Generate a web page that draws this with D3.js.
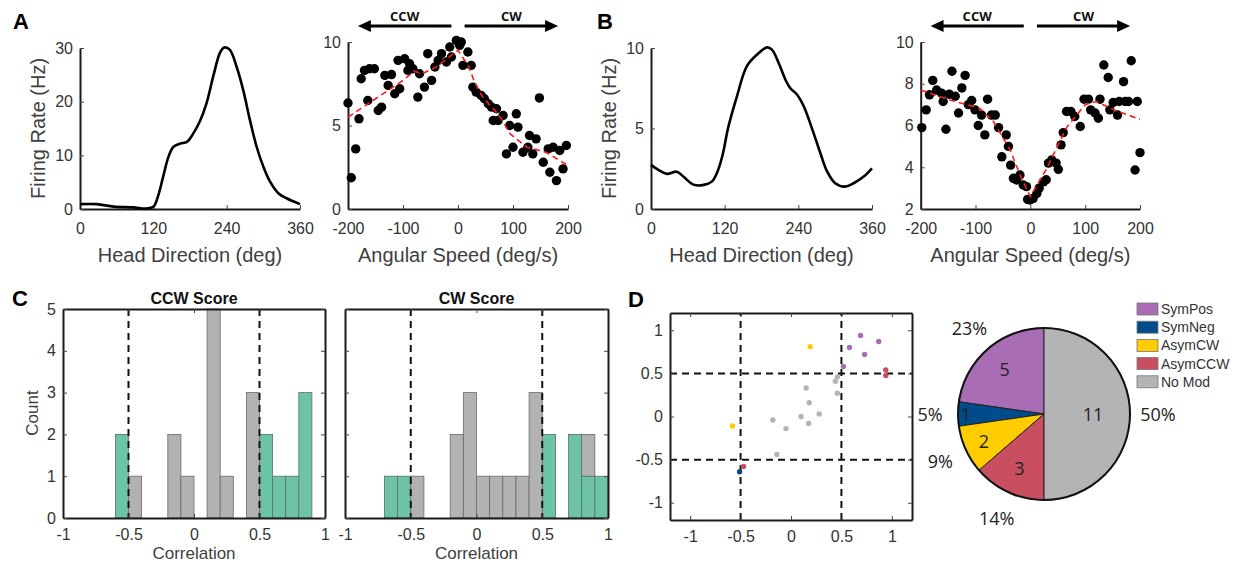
<!DOCTYPE html>
<html>
<head>
<meta charset="utf-8">
<script src="https://cdn.jsdelivr.net/npm/d3@7"></script>
<style>
  body { margin: 0; background: #fff; }
  text { font-family: "Liberation Sans", Arial, sans-serif; }
</style>
</head>
<body>
<div id="fig"></div>
<script>
const width = 1238;
const height = 569;

// A: head direction tuning curve
const hdA_deg = [0, 27, 55, 87, 109, 120, 128, 136, 145, 153, 164, 175, 185, 196, 207, 218, 229, 236, 245, 256, 267, 278, 289, 300, 311, 325, 338, 360];
const hdA_rate = [0.9, 0.9, 0.45, 0.3, 0.1, 0.4, 2.5, 6.0, 9.8, 11.6, 12.2, 12.5, 14.0, 16.3, 19.7, 24.7, 29.1, 30.1, 29.7, 26.6, 22.2, 16.6, 11.6, 7.9, 5.1, 2.9, 2.0, 0.9];

// A: angular speed tuning
const speedA = [-200, -194, -186, -180, -176, -170, -164, -161, -152, -145, -139, -133, -127, -121, -115, -109, -106, -97, -91, -88, -82, -73, -70, -61, -55, -48, -42, -36, -30, -21, -15, -12, -3, 3, 6, 9, 18, 24, 27, 33, 42, 48, 55, 61, 64, 70, 73, 82, 88, 94, 100, 106, 109, 118, 127, 130, 136, 142, 148, 155, 164, 167, 173, 179, 185, 191, 197];
const rateA = [6.35, 1.87, 3.6, 5.4, 7.8, 8.3, 6.5, 8.4, 8.4, 5.9, 6.1, 8.0, 7.4, 8.05, 6.9, 8.9, 7.2, 9.0, 8.3, 8.7, 8.4, 6.7, 8.1, 7.3, 9.3, 7.7, 8.5, 8.9, 9.3, 8.8, 9.7, 9.1, 10.1, 9.8, 10.0, 8.6, 9.4, 8.6, 7.3, 7.0, 6.8, 6.6, 6.3, 6.1, 5.3, 6.0, 5.3, 5.6, 3.3, 5.0, 3.7, 5.7, 4.9, 3.4, 3.7, 4.4, 3.3, 4.2, 6.65, 2.8, 3.6, 2.2, 3.7, 1.7, 3.5, 2.4, 3.8];
const fitA_speed = [-200, -150, -100, -80, -65, -40, -20, -5, 0, 10, 20, 30, 45, 75, 95, 125, 160, 200];
const fitA_rate = [5.5, 6.6, 7.7, 8.25, 8.1, 8.5, 9.0, 9.4, 9.5, 9.0, 8.5, 7.6, 6.7, 5.6, 4.5, 3.7, 3.4, 2.6];

// B: head direction tuning curve
const hdB_deg = [0, 12, 26, 42, 53, 70, 86, 99, 107, 116, 126, 140, 156, 173, 189, 197, 208, 219, 227, 238, 249, 265, 276, 287, 300, 316, 330, 346, 360];
const hdB_rate = [2.74, 2.43, 2.18, 2.32, 2.0, 1.5, 1.5, 1.7, 2.2, 3.26, 5.1, 7.0, 8.86, 9.6, 10.04, 9.9, 9.07, 8.03, 7.5, 7.1, 6.37, 4.7, 3.46, 2.32, 1.6, 1.39, 1.6, 2.0, 2.53];

// B: angular speed tuning
const speedB = [-198, -190, -184, -178, -171, -162, -159, -154, -148, -143, -137, -131, -125, -119, -113, -107, -101, -95, -89, -83, -78, -71, -64, -58, -52, -44, -40, -36, -31, -25, -19, -13, -7, -5, -1, 5, 12, 16, 24, 29, 33, 39, 47, 51, 56, 60, 66, 74, 81, 91, 98, 106, 110, 118, 124, 127, 134, 142, 145, 151, 159, 162, 170, 173, 179, 184, 191, 195, 200];
const rateB = [5.9, 6.75, 7.47, 8.16, 7.7, 7.55, 7.15, 5.82, 7.5, 8.6, 7.4, 6.6, 7.8, 8.4, 7.0, 7.2, 6.75, 6.0, 6.5, 5.55, 7.26, 6.5, 6.5, 5.9, 4.5, 5.55, 5.0, 4.1, 3.47, 3.39, 3.63, 3.15, 3.07, 2.46, 2.43, 2.5, 2.75, 3.0, 3.3, 3.4, 4.2, 4.35, 4.2, 3.9, 5.07, 5.66, 6.67, 6.67, 6.43, 5.95, 7.26, 7.26, 6.75, 6.6, 6.35, 7.26, 8.9, 8.3, 6.75, 7.1, 6.5, 7.15, 8.1, 7.15, 7.15, 9.1, 3.87, 7.15, 4.7];
const fitB_speed = [-200, -150, -92, -67, -37, -15, 0, 30, 66, 100, 120, 157, 200];
const fitB_rate = [7.7, 7.25, 6.82, 6.18, 4.83, 3.39, 2.6, 3.95, 5.9, 7.0, 7.15, 6.7, 6.3];

// C: score histograms (bins of 0.1 starting at binStart)
const binStart = [-1, -0.9, -0.8, -0.7, -0.6, -0.5, -0.4, -0.3, -0.2, -0.1, 0, 0.1, 0.2, 0.3, 0.4, 0.5, 0.6, 0.7, 0.8, 0.9];
const ccwGray = [0, 0, 0, 0, 0, 1, 0, 0, 2, 1, 0, 5, 1, 0, 3, 0, 0, 0, 0, 0];
const ccwGreen = [0, 0, 0, 0, 2, 0, 0, 0, 0, 0, 0, 0, 0, 0, 0, 2, 1, 1, 3, 0];
const cwGray = [0, 0, 0, 0, 0, 1, 0, 0, 2, 3, 1, 1, 1, 1, 3, 0, 0, 0, 1, 0];
const cwGreen = [0, 0, 0, 1, 1, 0, 0, 0, 0, 0, 0, 0, 0, 0, 0, 2, 0, 2, 1, 1];
const corrTicks = [-1, -0.5, 0, 0.5, 1];
const countTicks = [0, 1, 2, 3, 4, 5];

// D: score scatter + pie
const scoreX = [0.69, 0.87, 0.58, 0.73, 0.52, 0.94, 0.94, -0.47, 0.19, -0.58, -0.51, 0.46, 0.44, 0.46, 0.15, 0.18, 0.28, 0.10, 0.175, -0.18, -0.05, -0.14];
const scoreY = [0.94, 0.87, 0.80, 0.72, 0.58, 0.54, 0.475, -0.58, 0.81, -0.11, -0.64, 0.46, 0.41, 0.27, 0.33, 0.16, 0.03, 0.0, -0.08, -0.04, -0.14, -0.44];
const cellType = ["SymPos", "SymPos", "SymPos", "SymPos", "SymPos", "AsymCCW", "AsymCCW", "AsymCCW", "AsymCW", "AsymCW", "SymNeg",
  "No Mod", "No Mod", "No Mod", "No Mod", "No Mod", "No Mod", "No Mod", "No Mod", "No Mod", "No Mod", "No Mod"];
const pieLabels = ["SymPos", "SymNeg", "AsymCW", "AsymCCW", "No Mod"];
const pieCounts = [5, 1, 2, 3, 11];
const piePercents = ["23%", "5%", "9%", "14%", "50%"];
const pieColors = ["#A86DB5", "#004C8A", "#FFCC00", "#C94F60", "#B4B4B4"];

const color = d3.scaleOrdinal().domain(pieLabels).range(pieColors);

const svg = d3
  .select("#fig")
  .append("svg")
  .attr("width", width)
  .attr("height", height)
  .style("background", "#fff");

const INK = "#1a1a1a";
const TXT = "#333";
const plain = d => String(d); // MATLAB-style tick text: "-0.5", "1", hyphen minus

const styleAxis = (g, size) => {
  g.select(".domain").attr("stroke", INK).attr("stroke-width", 2);
  g.selectAll(".tick line").attr("stroke", "#444").attr("stroke-width", 1);
  g.selectAll("text").attr("font-size", size).attr("fill", TXT)
    .style("font-family", '"Liberation Sans", Arial, sans-serif');
};

const panelLetter = (t, x, y) => {
  svg.append("text").attr("x", x).attr("y", y).text(t)
    .attr("font-size", 22).attr("font-weight", "bold").attr("fill", "#000");
};

const axisLabel = (t, x, y, size, rotate) => {
  svg.append("text")
    .attr("transform", `translate(${x},${y})` + (rotate ? " rotate(-90)" : ""))
    .attr("text-anchor", "middle")
    .attr("dominant-baseline", "central")
    .attr("font-size", size)
    .attr("fill", "#404040")
    .text(t);
};

// open (box off) axes for the top row
const openAxes = (x, y, xTicks, yTicks) => {
  const [x0] = x.range();
  const [y0] = y.range();
  svg.append("g")
    .attr("transform", `translate(0,${y0})`)
    .call(d3.axisBottom(x).tickValues(xTicks).tickFormat(plain).tickSizeInner(-4).tickSizeOuter(0).tickPadding(14))
    .call(g => styleAxis(g, 16));
  svg.append("g")
    .attr("transform", `translate(${x0},0)`)
    .call(d3.axisLeft(y).tickValues(yTicks).tickFormat(plain).tickSizeInner(-4).tickSizeOuter(0).tickPadding(7))
    .call(g => styleAxis(g, 16));
};

const tuningPanel = (deg, rate, xr, yr, yMax, yTicks) => {
  const x = d3.scaleLinear().domain([0, 360]).range(xr);
  const y = d3.scaleLinear().domain([0, yMax]).range(yr);
  openAxes(x, y, [0, 120, 240, 360], yTicks);
  const line = d3.line()
    .x(d => x(d[0]))
    .y(d => y(d[1]))
    .curve(d3.curveCatmullRom.alpha(0.5));
  svg.append("path")
    .datum(deg.map((d, i) => [d, rate[i]]))
    .attr("fill", "none")
    .attr("stroke", "#000")
    .attr("stroke-width", 2.6)
    .attr("stroke-linejoin", "round")
    .attr("d", line);
  axisLabel("Head Direction (deg)", (xr[0] + xr[1]) / 2, 255, 20, false);
  axisLabel("Firing Rate (Hz)", xr[0] - 42, (yr[0] + yr[1]) / 2, 20, true);
};

const arrow = (x, from, to, yy) => {
  const dir = Math.sign(x(to) - x(from));
  const xEnd = x(to);
  svg.append("line")
    .attr("x1", x(from)).attr("x2", xEnd - dir * 8)
    .attr("y1", yy).attr("y2", yy)
    .attr("stroke", "#000").attr("stroke-width", 3);
  svg.append("path")
    .attr("d", `M${xEnd},${yy} L${xEnd - dir * 13},${yy - 6} L${xEnd - dir * 13},${yy + 6} Z`)
    .attr("fill", "#000");
};

const speedPanel = (sp, rt, fitX, fitY, xr, yr, yDom, yTicks) => {
  const x = d3.scaleLinear().domain([-200, 200]).range(xr);
  const y = d3.scaleLinear().domain(yDom).range(yr);
  openAxes(x, y, [-200, -100, 0, 100, 200], yTicks);

  svg.append("g")
    .selectAll("circle")
    .data(sp.map((d, i) => [d, rt[i]]))
    .enter()
    .append("circle")
    .attr("cx", d => x(d[0]))
    .attr("cy", d => y(d[1]))
    .attr("r", 4.7)
    .attr("fill", "#000");

  svg.append("path")
    .datum(fitX.map((d, i) => [d, fitY[i]]))
    .attr("fill", "none")
    .attr("stroke", "#ff1a1a")
    .attr("stroke-width", 1.6)
    .attr("stroke-dasharray", "6,4")
    .attr("d", d3.line().x(d => x(d[0])).y(d => y(d[1])));

  arrow(x, -12, -182, 26);
  arrow(x, 12, 182, 26);
  [["CCW", -97], ["CW", 97]].forEach(([t, v]) => {
    svg.append("text")
      .attr("x", x(v)).attr("y", 16)
      .attr("text-anchor", "middle")
      .attr("dominant-baseline", "central")
      .attr("font-size", 13)
      .attr("font-weight", "bold")
      .style("font-family", '"Open Sans", sans-serif')
      .attr("fill", "#111")
      .text(t);
  });
  axisLabel("Angular Speed (deg/s)", (xr[0] + xr[1]) / 2, 255, 20, false);
};

// boxed axes (MATLAB box on) for panels C and D
const boxAxes = (x, y, xTicks, yTicks, showY) => {
  const [x0, x1] = x.range();
  const [y0, y1] = y.range();
  svg.append("g").attr("transform", `translate(0,${y0})`)
    .call(d3.axisBottom(x).tickValues(xTicks).tickFormat(plain).tickSizeInner(-4).tickSizeOuter(0).tickPadding(11))
    .call(g => styleAxis(g, 16));
  svg.append("g").attr("transform", `translate(0,${y1})`)
    .call(d3.axisTop(x).tickValues(xTicks).tickSizeInner(-4).tickSizeOuter(0).tickFormat(""))
    .call(g => styleAxis(g, 16));
  svg.append("g").attr("transform", `translate(${x0},0)`)
    .call(d3.axisLeft(y).tickValues(yTicks).tickSizeInner(-4).tickSizeOuter(0).tickPadding(7)
      .tickFormat(showY ? plain : ""))
    .call(g => styleAxis(g, 16));
  svg.append("g").attr("transform", `translate(${x1},0)`)
    .call(d3.axisRight(y).tickValues(yTicks).tickSizeInner(-4).tickSizeOuter(0).tickFormat(""))
    .call(g => styleAxis(g, 16));
};

const dashedLine = (x1, y1, x2, y2) => {
  svg.append("line")
    .attr("x1", x1).attr("y1", y1).attr("x2", x2).attr("y2", y2)
    .attr("stroke", "#111")
    .attr("stroke-width", 2)
    .attr("stroke-dasharray", "7,5");
};

const histPanel = (title, gray, green, xr, showY) => {
  const x = d3.scaleLinear().domain([-1, 1]).range(xr);
  const y = d3.scaleLinear().domain([0, 5]).range([518, 309]);
  const bins = binStart.map((b, i) => ({ b, green: green[i], gray: gray[i] }));

  const g = svg.append("g");
  g.selectAll("rect.green")
    .data(bins.filter(d => d.green > 0))
    .enter()
    .append("rect")
    .attr("x", d => x(d.b))
    .attr("width", d => x(d.b + 0.1) - x(d.b))
    .attr("y", d => y(d.green))
    .attr("height", d => y(0) - y(d.green))
    .attr("fill", "#6CC4A4")
    .attr("stroke", "#5f6f68")
    .attr("stroke-width", 0.8);
  g.selectAll("rect.gray")
    .data(bins.filter(d => d.gray > 0))
    .enter()
    .append("rect")
    .attr("x", d => x(d.b))
    .attr("width", d => x(d.b + 0.1) - x(d.b))
    .attr("y", d => y(d.green + d.gray))
    .attr("height", d => y(d.green) - y(d.green + d.gray))
    .attr("fill", "#B2B2B2")
    .attr("stroke", "#6a6a6a")
    .attr("stroke-width", 0.8);

  [-0.5, 0.5].forEach(v => dashedLine(x(v), y(5), x(v), y(0)));
  boxAxes(x, y, corrTicks, countTicks, showY);

  svg.append("text")
    .attr("x", (xr[0] + xr[1]) / 2).attr("y", 298)
    .attr("text-anchor", "middle")
    .attr("dominant-baseline", "central")
    .attr("font-size", 16)
    .attr("font-weight", "bold")
    .attr("fill", "#111")
    .text(title);
  axisLabel("Correlation", (xr[0] + xr[1]) / 2, 553, 17, false);
};

// ---- A ----
panelLetter("A", 13, 29);
tuningPanel(hdA_deg, hdA_rate, [80, 300], [209, 48], 30, [0, 10, 20, 30]);
speedPanel(speedA, rateA, fitA_speed, fitA_rate, [348, 568], [209, 42], [0, 10], [0, 5, 10]);

// ---- B ----
panelLetter("B", 597, 29);
tuningPanel(hdB_deg, hdB_rate, [651, 872], [209, 48], 10, [0, 5, 10]);
speedPanel(speedB, rateB, fitB_speed, fitB_rate, [920.7, 1140], [209, 42], [2, 10], [2, 4, 6, 8, 10]);

// ---- C ----
panelLetter("C", 12, 306);
histPanel("CCW Score", ccwGray, ccwGreen, [63, 325], true);
histPanel("CW Score", cwGray, cwGreen, [345, 608], false);
axisLabel("Count", 32, 413, 17, true);

// ---- D scatter ----
panelLetter("D", 628, 307);
{
  const x = d3.scaleLinear().domain([-1.2, 1.2]).range([670, 912]);
  const y = d3.scaleLinear().domain([-1.2, 1.2]).range([520, 313]);
  [-0.5, 0.5].forEach(v => {
    dashedLine(x(v), y(-1.2), x(v), y(1.2));
    dashedLine(x(-1.2), y(v), x(1.2), y(v));
  });
  svg.append("g")
    .selectAll("circle")
    .data(scoreX.map((d, i) => ({ x: d, y: scoreY[i], t: cellType[i] })))
    .enter()
    .append("circle")
    .attr("cx", d => x(d.x))
    .attr("cy", d => y(d.y))
    .attr("r", 2.7)
    .attr("fill", d => color(d.t));
  boxAxes(x, y, corrTicks, corrTicks, true);
}

// ---- D pie ----
{
  const cx = 1044, cy = 414, r = 86;
  const pie = d3.pie().sort(null).startAngle(0).endAngle(-2 * Math.PI);
  const arcs = pie(pieCounts);
  const arc = d3.arc().innerRadius(0).outerRadius(r);
  const g = svg.append("g").attr("transform", `translate(${cx},${cy})`);
  g.selectAll("path")
    .data(arcs)
    .enter()
    .append("path")
    .attr("d", arc)
    .attr("fill", (d, i) => pieColors[i])
    .attr("stroke", "#222")
    .attr("stroke-width", 1);
  g.append("circle").attr("r", r).attr("fill", "none").attr("stroke", "#111").attr("stroke-width", 2);

  const countR = [60, 78, 66, 59, 49];
  const mid = d => (d.startAngle + d.endAngle) / 2;
  g.selectAll("text.count")
    .data(arcs)
    .enter()
    .append("text")
    .attr("x", (d, i) => countR[i] * Math.sin(mid(d)))
    .attr("y", (d, i) => -countR[i] * Math.cos(mid(d)))
    .attr("text-anchor", "middle")
    .attr("dominant-baseline", "central")
    .attr("font-size", 18)
    .style("font-family", '"Open Sans", sans-serif')
    .attr("fill", "#222")
    .text(d => d.data);
  g.selectAll("text.pct")
    .data(arcs)
    .enter()
    .append("text")
    .attr("x", d => 114 * Math.sin(mid(d)))
    .attr("y", d => -114 * Math.cos(mid(d)))
    .attr("text-anchor", "middle")
    .attr("dominant-baseline", "central")
    .attr("font-size", 18)
    .style("font-family", '"Open Sans", sans-serif')
    .attr("fill", "#222")
    .text((d, i) => piePercents[i]);

  const leg = svg.append("g").attr("transform", "translate(1137,303)");
  pieLabels.forEach((t, i) => {
    leg.append("rect")
      .attr("x", 0).attr("y", i * 18.2)
      .attr("width", 21).attr("height", 12)
      .attr("fill", pieColors[i])
      .attr("stroke", "#777")
      .attr("stroke-width", 0.8);
    leg.append("text")
      .attr("x", 24).attr("y", i * 18.2 + 6)
      .attr("dominant-baseline", "central")
      .attr("font-size", 14)
      .attr("fill", TXT)
      .text(t);
  });
}
</script>
</body>
</html>
